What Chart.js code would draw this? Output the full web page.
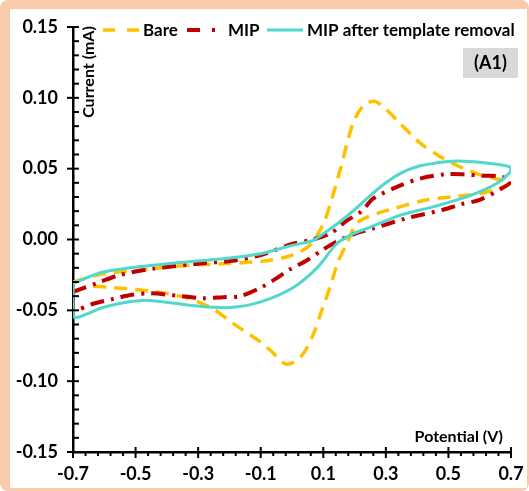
<!DOCTYPE html>
<html>
<head>
<meta charset="utf-8">
<script src="https://cdn.jsdelivr.net/npm/chart.js@4.4.1/dist/chart.umd.min.js"></script>
<style>
  html, body { margin: 0; padding: 0; background: #fff; }
  #frame { position: absolute; left: 0; top: 0; width: 529px; height: 491px; background: #F8CBAA; border-radius: 8px; }
  #inner { position: absolute; left: 10px; top: 9px; width: 517px; height: 479px; background: #fff; }
  canvas { display: block; }
</style>
</head>
<body>
<div id="frame"><div id="inner"><canvas id="cv" width="517" height="479"></canvas></div></div>
<script>
// tick values
const xTicks = [-0.7, -0.5, -0.3, -0.1, 0.1, 0.3, 0.5, 0.7];
const yTicks = [-0.15, -0.10, -0.05, 0.00, 0.05, 0.10, 0.15];

// Bare electrode (potential V, current mA), loop
const bareV = [-0.70, -0.60, -0.50, -0.35, -0.21, -0.08, 0.00, 0.057, 0.10, 0.125, 0.155, 0.195, 0.23, 0.265, 0.30, 0.345, 0.41, 0.47, 0.54, 0.61, 0.70,
  0.674, 0.60, 0.505, 0.42, 0.33, 0.28, 0.21, 0.175, 0.147, 0.121, 0.095, 0.068, 0.031, -0.017, -0.07, -0.10, -0.19, -0.26, -0.34, -0.43, -0.57, -0.646, -0.70, -0.70];
const bareI = [-0.030, -0.024, -0.022, -0.0185, -0.017, -0.015, -0.011, -0.004, 0.011, 0.027, 0.050, 0.082, 0.095, 0.0975, 0.092, 0.082, 0.068, 0.059, 0.051, 0.045, 0.040,
  0.037, 0.0325, 0.030, 0.0275, 0.022, 0.019, 0.012, -0.003, -0.016, -0.034, -0.050, -0.067, -0.082, -0.088, -0.078, -0.0725, -0.059, -0.048, -0.041, -0.037, -0.034, -0.033, -0.036, -0.030];

// MIP
const mipV = [-0.70, -0.614, -0.55, -0.444, -0.284, -0.19, -0.10, 0.003, 0.067, 0.128, 0.173, 0.223, 0.26, 0.345, 0.409, 0.489, 0.546, 0.61, 0.665, 0.70,
  0.67, 0.60, 0.537, 0.483, 0.367, 0.259, 0.20, 0.147, 0.10, 0.047, -0.006, -0.054, -0.10, -0.166, -0.22, -0.284, -0.35, -0.454, -0.512, -0.572, -0.63, -0.70, -0.70];
const mipI = [-0.037, -0.030, -0.025, -0.0206, -0.0167, -0.015, -0.011, -0.003, 0.000, 0.005, 0.013, 0.020, 0.029, 0.038, 0.043, 0.046, 0.046, 0.045, 0.0445, 0.041,
  0.036, 0.028, 0.0247, 0.021, 0.015, 0.0078, 0.004, -0.001, -0.007, -0.0148, -0.021, -0.028, -0.034, -0.040, -0.0407, -0.0414, -0.040, -0.038, -0.039, -0.042, -0.045, -0.0496, -0.037];

// MIP after template removal
const remV = [-0.70, -0.604, -0.454, -0.284, -0.198, -0.10, 0.003, 0.067, 0.10, 0.15, 0.20, 0.25, 0.30, 0.35, 0.41, 0.514, 0.62, 0.70,
  0.697, 0.654, 0.569, 0.45, 0.345, 0.24, 0.195, 0.143, 0.08, 0.003, -0.10, -0.198, -0.30, -0.454, -0.52, -0.604, -0.70, -0.70];
const remI = [-0.031, -0.023, -0.0184, -0.0148, -0.013, -0.010, -0.004, -0.0007, 0.004, 0.012, 0.021, 0.031, 0.040, 0.047, 0.052, 0.0553, 0.054, 0.051,
  0.0475, 0.0395, 0.031, 0.023, 0.017, 0.0078, 0.004, -0.003, -0.020, -0.034, -0.044, -0.048, -0.047, -0.043, -0.044, -0.048, -0.0545, -0.031];

function toPoints(vs, is) {
  return vs.map((v, i) => ({ x: v, y: is[i] }));
}

const FONT = 'Lato, "Open Sans", sans-serif';

const overlay = {
  id: 'overlay',
  afterDraw(chart) {
    const ctx = chart.ctx;
    const xs = chart.scales.x, ys = chart.scales.y;
    const area = chart.chartArea;
    ctx.save();

    // axis ticks (major + minor)
    ctx.strokeStyle = '#000';
    ctx.lineWidth = 2;
    for (let k = 0; k <= 30; k++) {
      const py = ys.getPixelForValue(-0.15 + k * 0.01);
      const major = k % 5 === 0;
      ctx.beginPath();
      ctx.moveTo(area.left - (major ? 6 : 0), py);
      ctx.lineTo(area.left + 6, py);
      ctx.stroke();
    }
    for (let k = 0; k <= 35; k++) {
      const px = xs.getPixelForValue(-0.7 + k * 0.04);
      const major = k % 5 === 0;
      ctx.beginPath();
      ctx.moveTo(px, area.bottom - (major ? 5 : 0));
      ctx.lineTo(px, area.bottom + (major ? 6 : 4));
      ctx.stroke();
    }

    // axis titles
    ctx.fillStyle = '#000';
    ctx.font = 'bold 16px ' + FONT;
    ctx.textAlign = 'right';
    ctx.textBaseline = 'middle';
    ctx.fillText('Potential (V)', area.right - 8, area.bottom - 15);
    ctx.save();
    ctx.translate(area.left + 16, area.top + 45);
    ctx.rotate(-Math.PI / 2);
    ctx.textAlign = 'center';
    ctx.fillText('Current (mA)', 0, 0);
    ctx.restore();

    // (A1) label box
    ctx.fillStyle = '#D9D9D9';
    ctx.fillRect(453, 39, 55, 30);
    ctx.fillStyle = '#000';
    ctx.font = 'bold 18px ' + FONT;
    ctx.textAlign = 'center';
    ctx.fillText('(A1)', 480.5, 54);

    // legend
    ctx.font = 'bold 17px ' + FONT;
    ctx.textAlign = 'left';
    const sampleX = [93, 177, 257];
    const sampleW = [37, 29, 36];
    const labelX = [133, 218, 297];
    const ly = 21;
    chart.data.datasets.forEach((ds, i) => {
      ctx.save();
      ctx.strokeStyle = ds.borderColor;
      ctx.lineWidth = ds.borderWidth;
      ctx.setLineDash(ds.legendDash || []);
      ctx.beginPath();
      ctx.moveTo(sampleX[i], ly);
      ctx.lineTo(sampleX[i] + sampleW[i], ly);
      ctx.stroke();
      ctx.restore();
      ctx.fillStyle = '#000';
      ctx.fillText(ds.label, labelX[i], ly + 1);
    });
    ctx.restore();
  }
};

const ctx = document.getElementById('cv').getContext('2d');

const chart = new Chart(ctx, {
  type: 'scatter',
  data: {
    datasets: [
      {
        label: 'Bare',
        data: toPoints(bareV, bareI),
        borderColor: '#FFC000',
        borderWidth: 3.5,
        borderDash: [13, 8],
        legendDash: [12, 12],
        order: 3
      },
      {
        label: 'MIP',
        data: toPoints(mipV, mipI),
        borderColor: '#C00000',
        borderWidth: 4,
        borderDash: [14, 7, 3, 7],
        legendDash: [13, 12, 3, 40],
        order: 2
      },
      {
        label: 'MIP after template removal',
        data: toPoints(remV, remI),
        borderColor: '#4FD8CB',
        borderWidth: 3,
        order: 1
      }
    ]
  },
  options: {
    responsive: false,
    animation: false,
    datasets: {
      scatter: { showLine: true, pointRadius: 0, tension: 0.3, fill: false }
    },
    layout: { padding: { left: 0, right: 16, top: 18, bottom: 0 } },
    plugins: {
      legend: { display: false },
      tooltip: { enabled: false }
    },
    scales: {
      x: {
        type: 'linear',
        min: -0.7,
        max: 0.7,
        afterBuildTicks: s => { s.ticks = xTicks.map(v => ({ value: v })); },
        afterFit: s => { s.height = 36; s.paddingLeft = 0; s.paddingRight = 0; },
        grid: { display: false, drawTicks: false },
        border: { color: '#000', width: 2.5 },
        ticks: {
          padding: 11,
          color: '#000',
          font: { family: FONT, size: 18, weight: 'bold' },
          callback: v => v.toFixed(1)
        }
      },
      y: {
        type: 'linear',
        min: -0.15,
        max: 0.15,
        afterBuildTicks: s => { s.ticks = yTicks.map(v => ({ value: v })); },
        afterFit: s => { s.width = 63; s.paddingTop = 0; s.paddingBottom = 0; },
        grid: { display: false, drawTicks: false },
        border: { color: '#000', width: 2.5 },
        ticks: {
          padding: 15,
          color: '#000',
          font: { family: FONT, size: 18, weight: 'bold' },
          callback: v => v.toFixed(2)
        }
      }
    }
  },
  plugins: [overlay]
});
</script>
</body>
</html>
